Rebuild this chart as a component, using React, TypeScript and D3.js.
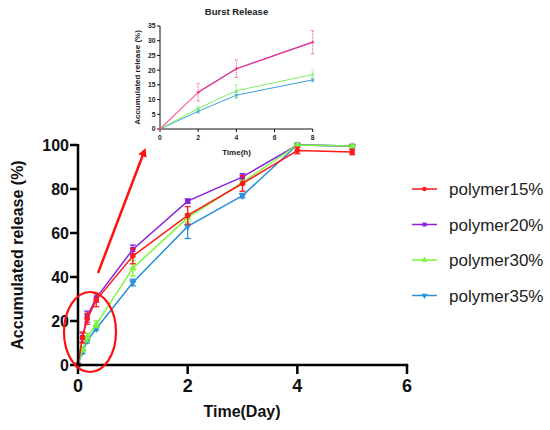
import React from "react";
import * as d3 from "d3";

const timeDays = [0, 0.083, 0.167, 0.333, 1, 2, 3, 4, 5];
const p15 = [0, 12.5, 21, 29.5, 49.5, 68, 82.5, 97.5, 96.8];
const e15 = [0, 2.5, 2.5, 3, 3.5, 4, 3.5, 1.5, 1.2];
const p20 = [0, 12.5, 22, 30.5, 52.5, 74.5, 85.5, 100, 99.5];
const e20 = [0, 2, 2.5, 2, 2, 1, 1.5, 0.5, 0.5];
const p30 = [0, 7, 12.5, 18.5, 44, 67, 83, 100, 99.5];
const e30 = [0, 1, 2, 1.5, 3.5, 2, 1, 0.5, 0.5];
const p35 = [0, 6, 11, 16.5, 37.5, 63, 77, 100, 99.5];
const e35 = [0, 0.8, 1, 0.8, 1.5, 5.5, 1, 0.5, 0.5];

const seriesNames = ["polymer15%", "polymer20%", "polymer30%", "polymer35%"];
const seriesColors = ["#ff1a1a", "#8a22dc", "#7cf53c", "#2a90d8"];

const xTicksMain = [0, 2, 4, 6];
const yTicksMain = [0, 20, 40, 60, 80, 100];

const insetHours = [0, 2, 4, 8];
const insetHours20 = [2, 4, 8];
const in15 = [0, 12.5, 20.5, 29.5];
const ie15 = [0, 3, 3, 4];
const in20 = [12.5, 20.5, 29.5];
const in30 = [0, 7, 13, 18.5];
const ie30 = [0, 0.8, 2, 1.6];
const in35 = [0, 6, 11.5, 16.7];
const ie35 = [0, 0.6, 1, 0.6];
const insetXTicks = [0, 2, 4, 6, 8];
const insetYTicks = [0, 5, 10, 15, 20, 25, 30, 35];

const FONT = "'Liberation Sans', Arial, Helvetica, sans-serif";

const symbolTypes = [d3.symbolCircle, d3.symbolSquare, d3.symbolTriangle, d3.symbolTriangle];
const symbolRot = [0, 0, 0, 180];

export default function App() {
  const x = d3.scaleLinear().domain([0, 6]).range([78, 407]);
  const y = d3.scaleLinear().domain([0, 100]).range([365, 145]);
  const ix = d3.scaleLinear().domain([0, 8]).range([160, 312.7]);
  const iy = d3.scaleLinear().domain([0, 35]).range([129, 26]);

  const mainVals = [p15, p20, p30, p35];
  const mainErrs = [e15, e20, e30, e35];
  const drawOrder = [3, 1, 2, 0];

  const line = (xs: number[], ys: number[], sx: any, sy: any) =>
    d3.line<number>().x((_, i) => sx(xs[i])).y((d) => sy(d))(ys) || "";

  const legendY = [189, 224.5, 260, 295.5];

  return (
    <svg width={550} height={430} style={{ position: "absolute", left: 0, top: 0, background: "#fff" }} fontFamily={FONT}>
      <rect x={0} y={0} width={550} height={430} fill="#fff" />
      {/* ===== Inset ===== */}
      <text x={236.5} y={15} textAnchor="middle" fontSize={9.5} fontWeight="bold" fill="#222">Burst Release</text>
      <line x1={ix(0)} x2={ix(0)} y1={iy(35)} y2={iy(0)} stroke="#111" strokeWidth={1} />
      <line x1={ix(0)} x2={ix(8)} y1={iy(0)} y2={iy(0)} stroke="#111" strokeWidth={1} />
      {insetYTicks.map((t) => (
        <g key={"iyt" + t}>
          <line x1={ix(0) - 3} x2={ix(0)} y1={iy(t)} y2={iy(t)} stroke="#111" strokeWidth={1} />
          <text x={ix(0) - 4.5} y={iy(t) + 2.4} textAnchor="end" fontSize={6.8} fontWeight="bold" fill="#222">{t}</text>
        </g>
      ))}
      {insetXTicks.map((t) => (
        <g key={"ixt" + t}>
          <line x1={ix(t)} x2={ix(t)} y1={iy(0)} y2={iy(0) + 3} stroke="#111" strokeWidth={1} />
          <text x={ix(t)} y={iy(0) + 11} textAnchor="middle" fontSize={6.8} fontWeight="bold" fill="#222">{t}</text>
        </g>
      ))}
      <text x={236.5} y={155} textAnchor="middle" fontSize={8} fontWeight="bold" fill="#222">Time(h)</text>
      <text transform={`translate(139.5,${(iy(0) + iy(35)) / 2}) rotate(-90)`} textAnchor="middle" fontSize={8} fontWeight="bold" fill="#222">Accumulated release (%)</text>
      {/* inset series */}
      <path d={line(insetHours, in35, ix, iy)} fill="none" stroke="#3aa0e0" strokeWidth={1} />
      <path d={line(insetHours, in30, ix, iy)} fill="none" stroke="#7cf060" strokeWidth={1} />
      <path d={line(insetHours20, in20, ix, iy)} fill="none" stroke="#9b2dd0" strokeWidth={1.2} />
      <path d={line(insetHours, in15, ix, iy)} fill="none" stroke="#ff3a70" strokeWidth={1.2} opacity={0.75} />
      {[
        { v: in35, e: ie35, c: "#3aa0e0" },
        { v: in30, e: ie30, c: "#7cf060" },
        { v: in15, e: ie15, c: "#ee3a78" },
      ].map((s, si) => (
        <g key={"ies" + si}>
          {s.v.map((v, i) => (
            <g key={i}>
              {s.e[i] > 0 && (
                <g stroke={s.c} strokeWidth={0.9} strokeDasharray="1.2,1">
                  <line x1={ix(insetHours[i])} x2={ix(insetHours[i])} y1={iy(v - s.e[i])} y2={iy(v + s.e[i])} />
                  <line x1={ix(insetHours[i]) - 1.5} x2={ix(insetHours[i]) + 1.5} y1={iy(v - s.e[i])} y2={iy(v - s.e[i])} />
                  <line x1={ix(insetHours[i]) - 1.5} x2={ix(insetHours[i]) + 1.5} y1={iy(v + s.e[i])} y2={iy(v + s.e[i])} />
                </g>
              )}
              <circle cx={ix(insetHours[i])} cy={iy(v)} r={1.3} fill={s.c} />
            </g>
          ))}
        </g>
      ))}

      {/* ===== Main chart ===== */}
      {drawOrder.map((si) => {
        const vals = mainVals[si];
        const errs = mainErrs[si];
        const c = seriesColors[si];
        const sym = d3.symbol().type(symbolTypes[si]).size(si === 1 ? 26 : 24)() || "";
        return (
          <g key={"s" + si}>
            <path d={line(timeDays, vals, x, y)} fill="none" stroke={c} strokeWidth={1.5} />
            {vals.map((v, i) => (
              <g key={i}>
                {errs[i] > 0 && (
                  <g stroke={c} strokeWidth={1.3}>
                    <line x1={x(timeDays[i])} x2={x(timeDays[i])} y1={y(v - errs[i])} y2={y(Math.min(100.5, v + errs[i]))} />
                    <line x1={x(timeDays[i]) - 3} x2={x(timeDays[i]) + 3} y1={y(v - errs[i])} y2={y(v - errs[i])} />
                    <line x1={x(timeDays[i]) - 3} x2={x(timeDays[i]) + 3} y1={y(v + errs[i])} y2={y(v + errs[i])} />
                  </g>
                )}
                <path d={sym} transform={`translate(${x(timeDays[i])},${y(v)}) rotate(${symbolRot[si]})`} fill={c} />
              </g>
            ))}
          </g>
        );
      })}

      {/* axes */}
      <line x1={x(0)} x2={x(0)} y1={y(100) - 1} y2={y(0) + 1.25} stroke="#000" strokeWidth={2.5} />
      <line x1={x(0) - 1.25} x2={x(6) + 1.25} y1={y(0)} y2={y(0)} stroke="#000" strokeWidth={2.5} />
      {yTicksMain.map((t) => (
        <g key={"yt" + t}>
          <line x1={x(0) - 8} x2={x(0)} y1={y(t)} y2={y(t)} stroke="#000" strokeWidth={2.5} />
          <text x={69} y={y(t) + 5.6} textAnchor="end" fontSize={16} fontWeight="bold" fill="#111">{t}</text>
        </g>
      ))}
      {xTicksMain.map((t) => (
        <g key={"xt" + t}>
          <line x1={x(t)} x2={x(t)} y1={y(0)} y2={y(0) + 9} stroke="#000" strokeWidth={2.5} />
          <text x={x(t)} y={391.5} textAnchor="middle" fontSize={18} fontWeight="bold" fill="#111">{t}</text>
        </g>
      ))}
      <text x={242} y={417} textAnchor="middle" fontSize={16} fontWeight="bold" fill="#111">Time(Day)</text>
      <text transform={`translate(23,255) rotate(-90)`} textAnchor="middle" fontSize={16} fontWeight="bold" fill="#111">Accumulated release (%)</text>

      {/* annotations */}
      <defs>
        <marker id="arrowHead" viewBox="0 0 10 10" refX="5" refY="5" markerWidth="3.5" markerHeight="3.5" orient="auto">
          <path d="M0,0 L10,5 L0,10 z" fill="#ff1010" />
        </marker>
      </defs>
      <line x1={98} y1={273} x2={144} y2={152} stroke="#ff1010" strokeWidth={2.5} markerEnd="url(#arrowHead)" />
      <ellipse cx={90} cy={332} rx={26} ry={40} fill="none" stroke="#ff1010" strokeWidth={2.2} />

      {/* legend */}
      {seriesNames.map((n, i) => {
        const sym = d3.symbol().type(symbolTypes[i]).size(16)() || "";
        return (
          <g key={"lg" + i}>
            <line x1={412} x2={437} y1={legendY[i]} y2={legendY[i]} stroke={seriesColors[i]} strokeWidth={1.5} />
            <path d={sym} transform={`translate(424.5,${legendY[i]}) rotate(${symbolRot[i]})`} fill={seriesColors[i]} />
            <text x={449} y={legendY[i] + 6} fontSize={17} fill="#222">{n}</text>
          </g>
        );
      })}
    </svg>
  );
}
